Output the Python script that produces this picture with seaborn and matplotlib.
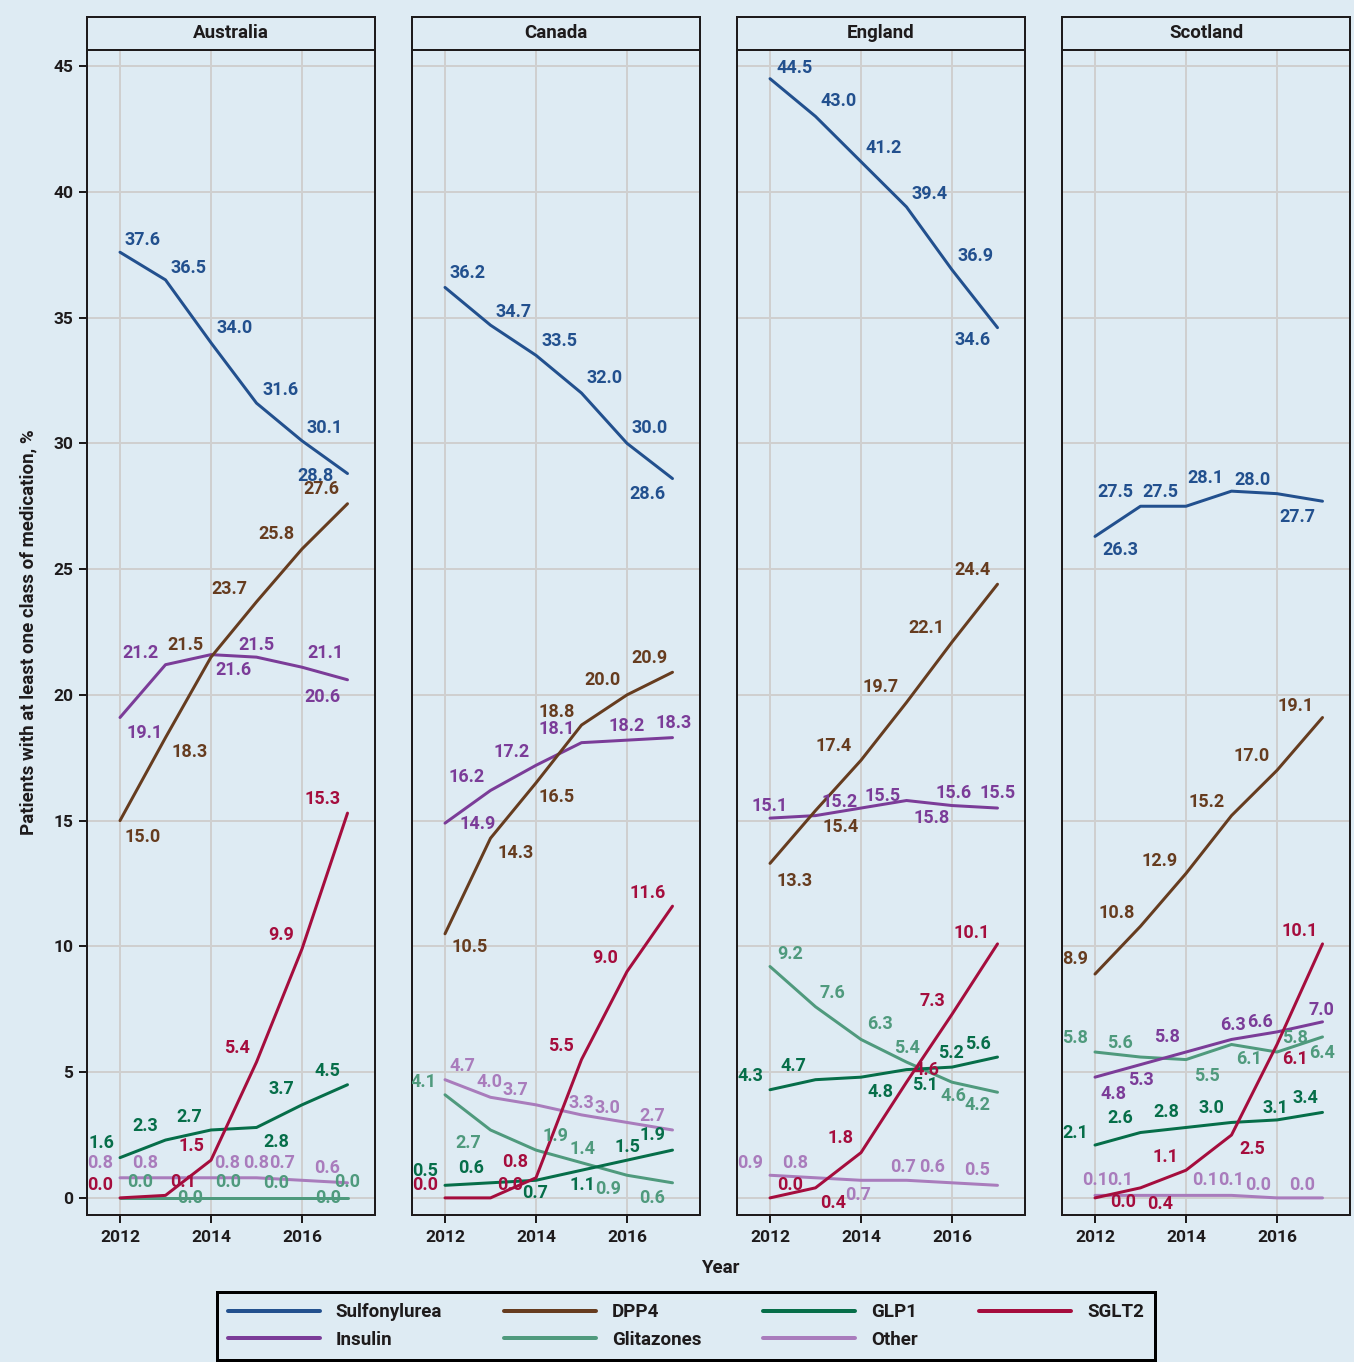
import matplotlib
matplotlib.use("Agg")
import matplotlib.pyplot as plt
import matplotlib.patches as mpatches
from matplotlib.lines import Line2D
import seaborn as sns
import pandas as pd

# data, % of patients per year
years = [2012, 2013, 2014, 2015, 2016, 2017]
countries = ["Australia", "Canada", "England", "Scotland"]

australia = {
    "Sulfonylurea": [37.6, 36.5, 34.0, 31.6, 30.1, 28.8],
    "DPP4": [15.0, 18.3, 21.5, 23.7, 25.8, 27.6],
    "GLP1": [1.6, 2.3, 2.7, 2.8, 3.7, 4.5],
    "SGLT2": [0.0, 0.1, 1.5, 5.4, 9.9, 15.3],
    "Insulin": [19.1, 21.2, 21.6, 21.5, 21.1, 20.6],
    "Glitazones": [0.0, 0.0, 0.0, 0.0, 0.0, 0.0],
    "Other": [0.8, 0.8, 0.8, 0.8, 0.7, 0.6],
}
canada = {
    "Sulfonylurea": [36.2, 34.7, 33.5, 32.0, 30.0, 28.6],
    "DPP4": [10.5, 14.3, 16.5, 18.8, 20.0, 20.9],
    "GLP1": [0.5, 0.6, 0.7, 1.1, 1.5, 1.9],
    "SGLT2": [0.0, 0.0, 0.8, 5.5, 9.0, 11.6],
    "Insulin": [14.9, 16.2, 17.2, 18.1, 18.2, 18.3],
    "Glitazones": [4.1, 2.7, 1.9, 1.4, 0.9, 0.6],
    "Other": [4.7, 4.0, 3.7, 3.3, 3.0, 2.7],
}
england = {
    "Sulfonylurea": [44.5, 43.0, 41.2, 39.4, 36.9, 34.6],
    "DPP4": [13.3, 15.4, 17.4, 19.7, 22.1, 24.4],
    "GLP1": [4.3, 4.7, 4.8, 5.1, 5.2, 5.6],
    "SGLT2": [0.0, 0.4, 1.8, 4.6, 7.3, 10.1],
    "Insulin": [15.1, 15.2, 15.5, 15.8, 15.6, 15.5],
    "Glitazones": [9.2, 7.6, 6.3, 5.4, 4.6, 4.2],
    "Other": [0.9, 0.8, 0.7, 0.7, 0.6, 0.5],
}
scotland = {
    "Sulfonylurea": [26.3, 27.5, 27.5, 28.1, 28.0, 27.7],
    "DPP4": [8.9, 10.8, 12.9, 15.2, 17.0, 19.1],
    "GLP1": [2.1, 2.6, 2.8, 3.0, 3.1, 3.4],
    "SGLT2": [0.0, 0.4, 1.1, 2.5, 6.1, 10.1],
    "Insulin": [4.8, 5.3, 5.8, 6.3, 6.6, 7.0],
    "Glitazones": [5.8, 5.6, 5.5, 6.1, 5.8, 6.4],
    "Other": [0.1, 0.1, 0.1, 0.1, 0.0, 0.0],
}
country_data = {"Australia": australia, "Canada": canada,
                "England": england, "Scotland": scotland}

classes = ["Sulfonylurea", "DPP4", "GLP1", "SGLT2", "Insulin", "Glitazones", "Other"]
draw_order = ["Other", "Glitazones", "GLP1", "Insulin", "DPP4", "Sulfonylurea", "SGLT2"]
colours = {
    "Sulfonylurea": "#22508e",
    "DPP4": "#663c1f",
    "GLP1": "#066e49",
    "SGLT2": "#a50d3d",
    "Insulin": "#7b3c98",
    "Glitazones": "#4f9a7d",
    "Other": "#a97cbc",
}

# label offsets from each point, in pixels (right, down) -- repel-like placement
label_offsets = {
    "Australia": {
        "Sulfonylurea": [(23, -12), (23, -12), (24, -15), (24, -13), (23, -13), (-32, 2)],
        "DPP4": [(23, 16), (24, 14), (-26, -12), (-27, -13), (-26, -15), (-26, -15)],
        "GLP1": [(-19, -15), (-20, -14), (-22, -13), (20, 15), (-21, -16), (-20, -14)],
        "SGLT2": [(-20, -13), (18, -13), (-20, -14), (-20, -14), (-21, -14), (-25, -14)],
        "Insulin": [(25, 15), (-25, -12), (22, 15), (0, -12), (23, -14), (-25, 17)],
        "Glitazones": [(20, -16), (25, 0), (17, -16), (20, -15), (26, 0), (0, -16)],
        "Other": [(-20, -15), (-20, -15), (16, -15), (0, -15), (-20, -17), (-20, -15)],
    },
    "Canada": {
        "Sulfonylurea": [(23, -14), (23, -13), (23, -14), (23, -15), (23, -15), (-25, 15)],
        "DPP4": [(25, 13), (25, 15), (21, 14), (-25, -13), (-25, -15), (-23, -14)],
        "GLP1": [(-20, -14), (-19, -15), (-1, 13), (1, 15), (0, -13), (-20, -15)],
        "SGLT2": [(-20, -13), (20, -13), (-21, -16), (-21, -14), (-22, -14), (-25, -13)],
        "Insulin": [(33, 1), (-24, -13), (-24, -13), (-25, -14), (0, -14), (1, -15)],
        "Glitazones": [(-22, -13), (-22, 13), (19, -14), (1, -14), (-19, 14), (-20, 15)],
        "Other": [(17, -14), (-1, -15), (-21, -15), (0, -12), (-20, -14), (-20, -14)],
    },
    "England": {
        "Sulfonylurea": [(25, -11), (23, -15), (23, -14), (23, -13), (23, -14), (-25, 12)],
        "DPP4": [(25, 18), (25, 16), (-27, -14), (-26, -15), (-26, -14), (-25, -14)],
        "GLP1": [(-20, -14), (-22, -14), (19, 15), (18, 15), (-1, -14), (-20, -13)],
        "SGLT2": [(20, -13), (18, 15), (-21, -15), (20, -12), (-20, -13), (-26, -11)],
        "Insulin": [(0, -12), (24, -14), (22, -12), (25, 17), (2, -13), (0, -15)],
        "Glitazones": [(20, -13), (17, -14), (19, -15), (0, -14), (1, 14), (-20, 13)],
        "Other": [(-20, -12), (-20, -15), (-3, 15), (-3, -13), (-20, -16), (-20, -15)],
    },
    "Scotland": {
        "Sulfonylurea": [(25, 14), (-25, -14), (-26, -14), (-26, -13), (-25, -14), (-25, 16)],
        "DPP4": [(-20, -15), (-24, -13), (-26, -12), (-25, -14), (-25, -14), (-27, -12)],
        "GLP1": [(-20, -12), (-20, -15), (-20, -15), (-20, -14), (-2, -12), (-17, -14)],
        "SGLT2": [(28, 4), (20, 16), (-21, -13), (21, 14), (18, 15), (-23, -13)],
        "Insulin": [(18, 17), (0, 15), (-19, -15), (1, -14), (-17, -10), (-1, -12)],
        "Glitazones": [(-20, -14), (-21, -14), (21, 16), (18, 15), (18, -14), (0, 16)],
        "Other": [(0, -15), (-20, -15), (19, -15), (0, -15), (-19, -13), (-20, -13)],
    },
}

rows = []
for c in countries:
    for cls in classes:
        for yr, v in zip(years, country_data[c][cls]):
            rows.append({"country": c, "cls": cls, "year": yr, "pct": v})
df = pd.DataFrame(rows)

bg = "#deebf3"
ink = "#1e1b1c"
PX = 0.72  # points per pixel at dpi 100

sns.set_theme(style="whitegrid", rc={
    "axes.facecolor": bg,
    "figure.facecolor": bg,
    "grid.color": "#cfcfcf",
    "grid.linewidth": 2 * PX,
    "axes.edgecolor": ink,
    "axes.linewidth": 2 * PX,
})
plt.rcParams["font.family"] = ["Roboto", "DejaVu Sans"]
plt.rcParams["font.weight"] = "bold"

W, H = 1354, 1362
fig = plt.figure(figsize=(W / 100, H / 100), dpi=100)

lefts = [87, 412, 737, 1062]
pw, top, bottom = 288, 50, 1215
strip_h = 33

for i, c in enumerate(countries):
    ax = fig.add_axes([lefts[i] / W, (H - bottom) / H, pw / W, (bottom - top) / H])
    sub = df[df.country == c]
    sns.lineplot(data=sub, x="year", y="pct", hue="cls", hue_order=draw_order,
                 palette=colours, linewidth=3 * PX, legend=False, ax=ax)

    for cls in classes:
        vals = country_data[c][cls]
        for j, (yr, v) in enumerate(zip(years, vals)):
            dx, dy = label_offsets[c][cls][j]
            ax.annotate("%.1f" % v, xy=(yr, v), xytext=(dx * PX, -dy * PX),
                        textcoords="offset points", ha="center", va="center",
                        fontsize=13, fontweight="bold", color=colours[cls],
                        clip_on=True, zorder=5)

    ax.set_xlim(2011.275, 2017.604)
    ax.set_ylim(-0.68, 45.64)
    ax.set_xticks([2012, 2014, 2016])
    ax.set_yticks(range(0, 50, 5))
    ax.set_xlabel("")
    ax.set_ylabel("")
    ax.grid(True, which="major")
    ax.tick_params(axis="x", bottom=True, length=8 * PX, width=2 * PX, color=ink,
                   labelsize=12.5, labelcolor=ink, pad=5)
    if i == 0:
        ax.tick_params(axis="y", left=True, length=8 * PX, width=2 * PX, color=ink,
                       labelsize=12.5, labelcolor=ink, pad=4)
    else:
        ax.tick_params(axis="y", left=False, labelleft=False)
    for lab in ax.get_xticklabels() + ax.get_yticklabels():
        lab.set_fontweight("bold")
    for sp in ax.spines.values():
        sp.set_visible(True)
        sp.set_color(ink)
        sp.set_linewidth(2 * PX)

    # facet strip
    sh = strip_h / (bottom - top)
    ax.add_patch(mpatches.Rectangle((0, 1), 1, sh, transform=ax.transAxes,
                                    facecolor=bg, edgecolor=ink, linewidth=2 * PX,
                                    clip_on=False, zorder=10))
    ax.text(0.5, 1 + sh / 2, c, transform=ax.transAxes, ha="center", va="center",
            fontsize=13.5, fontweight="bold", color=ink, zorder=11)

fig.text(28 / W, 1 - 632 / H, "Patients with at least one class of medication, %",
         rotation=90, ha="center", va="center", fontsize=13.5, fontweight="bold", color=ink)
fig.text(720 / W, 1 - 1268 / H, "Year", ha="center", va="center",
         fontsize=13.5, fontweight="bold", color=ink)

# legend, filled column-wise so rows read as in the reference
leg_order = ["Sulfonylurea", "Insulin", "DPP4", "Glitazones", "GLP1", "Other", "SGLT2"]
handles = [Line2D([0], [0], color=colours[k], linewidth=4 * PX) for k in leg_order]
leg = fig.legend(handles, leg_order, loc="center", bbox_to_anchor=(686 / W, 1 - 1326 / H),
                 ncol=4, frameon=True, fancybox=False, facecolor=bg, edgecolor="black",
                 framealpha=1, handlelength=4.9, handletextpad=0.85, columnspacing=3.3,
                 labelspacing=0.5, borderpad=0.6,
                 prop={"size": 13.5, "weight": "bold"})
leg.get_frame().set_linewidth(3 * PX)
for t in leg.get_texts():
    t.set_color(ink)

fig.savefig("out.png", dpi=100, facecolor=bg)
